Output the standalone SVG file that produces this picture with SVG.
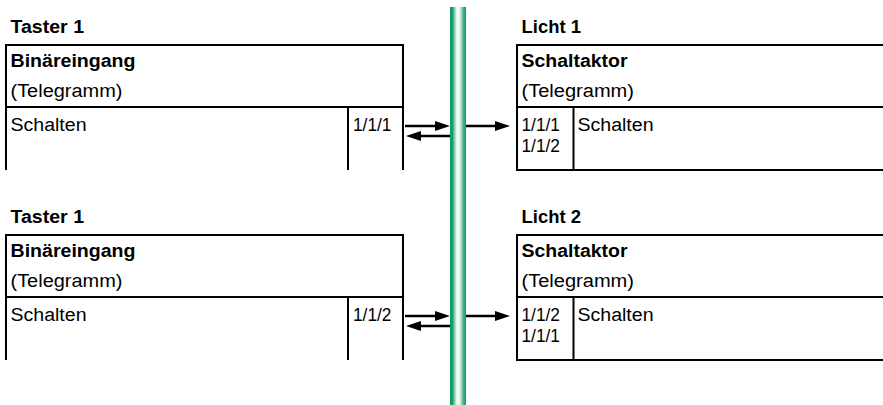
<svg xmlns="http://www.w3.org/2000/svg" width="883" height="405" viewBox="0 0 883 405">
  <style>
    text { font-family: "Liberation Sans", Arial, sans-serif; font-size: 18px; fill: #000; }
    .b { font-weight: bold; }
    .frame { fill: none; stroke: #000; stroke-width: 2; }
    .conn { fill: none; stroke: #000; stroke-width: 2.5; }
    .head { fill: #000; stroke: none; }
  </style>
  <defs>
    <linearGradient id="busg" x1="0" y1="0" x2="1" y2="0">
      <stop offset="0" stop-color="#079860"/>
      <stop offset="0.16" stop-color="#1ba06c"/>
      <stop offset="0.3" stop-color="#8fd2b4"/>
      <stop offset="0.45" stop-color="#ffffff"/>
      <stop offset="0.62" stop-color="#e4efea"/>
      <stop offset="0.8" stop-color="#56bb91"/>
      <stop offset="1" stop-color="#079860"/>
    </linearGradient>
  </defs>

  <rect id="bus" x="450" y="7" width="16" height="398" fill="url(#busg)"/>

  <g id="taster1a">
    <text class="b" x="10.5" y="33.3" textLength="73.5" lengthAdjust="spacingAndGlyphs">Taster 1</text>
    <path class="frame" d="M6,170 V45 H403 V170 M6,107 H403 M348,107 V170"/>
    <text class="b" x="10.5" y="66.7" textLength="125" lengthAdjust="spacingAndGlyphs">Binäreingang</text>
    <text x="10.5" y="96.7" textLength="112" lengthAdjust="spacingAndGlyphs">(Telegramm)</text>
    <text x="10.5" y="130.5" textLength="76" lengthAdjust="spacingAndGlyphs">Schalten</text>
    <text x="353" y="130.5" textLength="38.5" lengthAdjust="spacingAndGlyphs">1/1/1</text>
  </g>

  <g id="licht1">
    <text class="b" x="521.5" y="33.3" textLength="59.5" lengthAdjust="spacingAndGlyphs">Licht 1</text>
    <path class="frame" d="M884,45 H517 V170 H884 M517,107 H884 M573.5,107 V170"/>
    <text class="b" x="521.5" y="66.7" textLength="106" lengthAdjust="spacingAndGlyphs">Schaltaktor</text>
    <text x="521.5" y="96.7" textLength="112.5" lengthAdjust="spacingAndGlyphs">(Telegramm)</text>
    <text x="521.5" y="130.5" textLength="38.5" lengthAdjust="spacingAndGlyphs">1/1/1</text>
    <text x="521.5" y="152" textLength="38.5" lengthAdjust="spacingAndGlyphs">1/1/2</text>
    <text x="577.5" y="130.5" textLength="76" lengthAdjust="spacingAndGlyphs">Schalten</text>
  </g>

  <g id="taster1b">
    <text class="b" x="10.5" y="223.3" textLength="73.5" lengthAdjust="spacingAndGlyphs">Taster 1</text>
    <path class="frame" d="M6,360 V235 H403 V360 M6,297 H403 M348,297 V360"/>
    <text class="b" x="10.5" y="256.7" textLength="125" lengthAdjust="spacingAndGlyphs">Binäreingang</text>
    <text x="10.5" y="286.7" textLength="112" lengthAdjust="spacingAndGlyphs">(Telegramm)</text>
    <text x="10.5" y="320.5" textLength="76" lengthAdjust="spacingAndGlyphs">Schalten</text>
    <text x="353" y="320.5" textLength="38.5" lengthAdjust="spacingAndGlyphs">1/1/2</text>
  </g>

  <g id="licht2">
    <text class="b" x="521.5" y="223.3" textLength="59.5" lengthAdjust="spacingAndGlyphs">Licht 2</text>
    <path class="frame" d="M884,235 H517 V360 H884 M517,297 H884 M573.5,297 V360"/>
    <text class="b" x="521.5" y="256.7" textLength="106" lengthAdjust="spacingAndGlyphs">Schaltaktor</text>
    <text x="521.5" y="286.7" textLength="112.5" lengthAdjust="spacingAndGlyphs">(Telegramm)</text>
    <text x="521.5" y="320.5" textLength="38.5" lengthAdjust="spacingAndGlyphs">1/1/2</text>
    <text x="521.5" y="342" textLength="38.5" lengthAdjust="spacingAndGlyphs">1/1/1</text>
    <text x="577.5" y="320.5" textLength="76" lengthAdjust="spacingAndGlyphs">Schalten</text>
  </g>

  <g id="connectors">
    <path class="conn" d="M405,126 H437"/>
    <path class="head" d="M435,121 L450,126 L435,131 z"/>
    <path class="conn" d="M450,136 H419"/>
    <path class="head" d="M421,131 L406,136 L421,141 z"/>
    <path class="conn" d="M466,126 H497"/>
    <path class="head" d="M495,121 L510,126 L495,131 z"/>
    <path class="conn" d="M405,316 H437"/>
    <path class="head" d="M435,311 L450,316 L435,321 z"/>
    <path class="conn" d="M450,326 H419"/>
    <path class="head" d="M421,321 L406,326 L421,331 z"/>
    <path class="conn" d="M466,316 H497"/>
    <path class="head" d="M495,311 L510,316 L495,321 z"/>
  </g>
</svg>
